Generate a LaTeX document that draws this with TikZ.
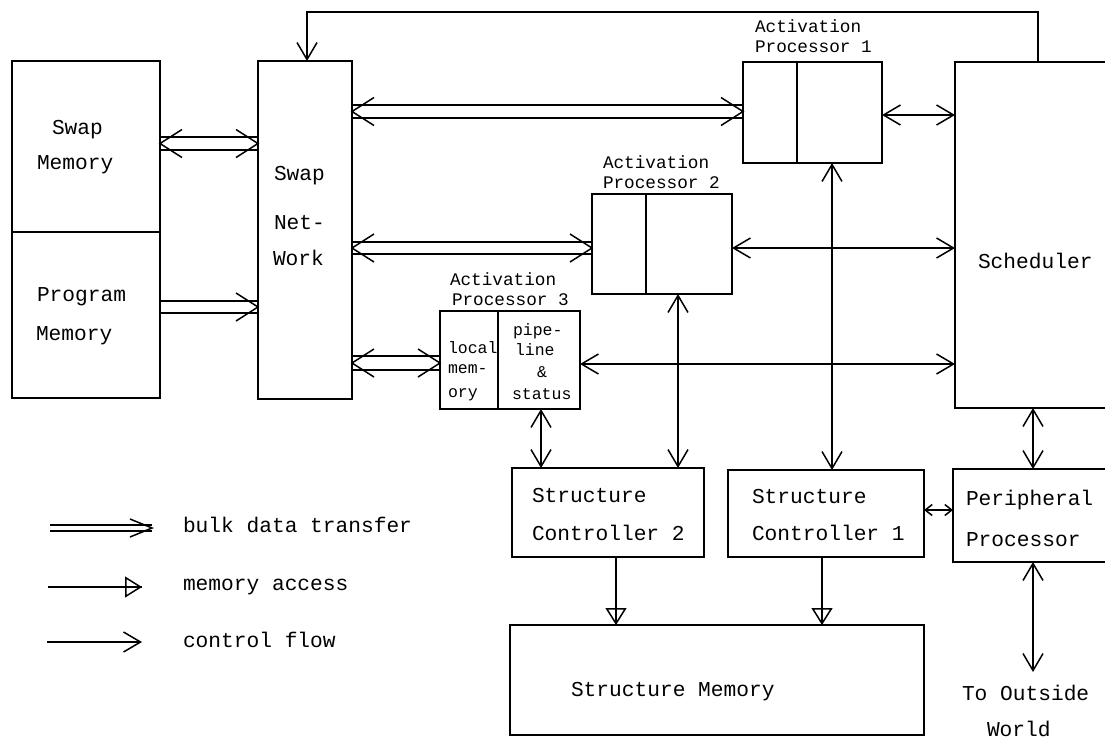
\documentclass[tikz,border=0pt]{standalone}
\usepackage{fontspec}
\newfontfamily\cour{Liberation Mono}
\usetikzlibrary{arrows.meta}
\newcommand\bulkshaft[4]{%
  \draw[bulk] (#1 |- 0,#3-#4) -- (#2 |- 0,#3-#4);
  \draw[bulk] (#1 |- 0,#3+#4) -- (#2 |- 0,#3+#4);}
\newcommand\chevR[3]{\draw[bulk] (#1 |- 0,#2) ++(-22,-#3) -- (#1 |- 0,#2) -- ++(-22,#3);}
\newcommand\chevL[3]{\draw[bulk] (#1 |- 0,#2) ++(22,-#3) -- (#1 |- 0,#2) -- ++(22,#3);}
\begin{document}
\begin{tikzpicture}[x=1pt,y=-1pt,
 box/.style={draw,line width=2pt,inner sep=0pt,outer sep=0pt,anchor=north west},
 divl/.style={line width=1.4pt},
 txt/.style={anchor=base west,inner sep=0pt,outer sep=0pt,font=\cour\fontsize{21.2}{25}\selectfont},
 txtm/.style={txt,font=\cour\fontsize{17.7}{21}\selectfont},
 txts/.style={txt,font=\cour\fontsize{16.5}{20}\selectfont},
 bulk/.style={line width=1.5pt},
 ctl/.style={line width=1.5pt,{Straight Barb[length=17pt,width=20pt]}-{Straight Barb[length=17pt,width=20pt]}},
 ctlone/.style={line width=1.5pt,-{Straight Barb[length=17pt,width=20pt]}},
 ctlsmall/.style={line width=1.5pt,{Straight Barb[length=7pt,width=11pt]}-{Straight Barb[length=7pt,width=11pt]}},
 mem/.style={line width=1.5pt,-{Triangle[open,length=17pt,width=21pt]},postaction={draw,-}},
]
\useasboundingbox (0,0) rectangle (1105,740);
\fill[white] (0,0) rectangle (1105,740);
% boxes
\node[box,minimum width=148pt,minimum height=171pt] (sm) at (12,61) {};
\node[box,minimum width=148pt,minimum height=166pt] (pm) at (12,232) {};
\node[box,minimum width=94pt,minimum height=338pt] (sn) at (258,61) {};
\node[box,minimum width=139pt,minimum height=101pt] (ap1) at (743,62) {};
\node[box,minimum width=140pt,minimum height=100pt] (ap2) at (592,194) {};
\node[box,minimum width=140pt,minimum height=98pt] (ap3) at (440,311) {};
\node[box,minimum width=180pt,minimum height=346pt] (sch) at (955,62) {};
\node[box,minimum width=180pt,minimum height=93pt] (pp) at (953,469) {};
\node[box,minimum width=192pt,minimum height=89pt] (sc2) at (512,468) {};
\node[box,minimum width=196pt,minimum height=87pt] (sc1) at (728,470) {};
\node[box,minimum width=414pt,minimum height=110pt] (smem) at (510,625) {};
% dividers
\draw[divl] (ap1.north west -| 797,0) -- (ap1.south west -| 797,0);
\draw[divl] (ap2.north west -| 646,0) -- (ap2.south west -| 646,0);
\draw[divl] (ap3.north west -| 498,0) -- (ap3.south west -| 498,0);
% texts
\node[txt] (tsm1) at (52,134) {Swap};
\node[txt] (tsm2) at (37,169) {Memory};
\node[txt] (tpm1) at (37,301) {Program};
\node[txt] (tpm2) at (36,340) {Memory};
\node[txt] (tsn1) at (274,180) {Swap};
\node[txt] (tsn2) at (274,229) {Net-};
\node[txt] (tsn3) at (273,265) {Work};
\node[txtm] (ta1a) at (755,32) {Activation};
\node[txtm] (ta1b) at (755,52) {Processor 1};
\node[txtm] (ta2a) at (603,168) {Activation};
\node[txtm] (ta2b) at (603,188) {Processor 2};
\node[txtm] (ta3a) at (450,285) {Activation};
\node[txtm] (ta3b) at (452,305) {Processor 3};
\node[txts] (tl1) at (448,353) {local};
\node[txts] (tl2) at (448,373) {mem-};
\node[txts] (tl3) at (448,397) {ory};
\node[txts] (tr1) at (513,335) {pipe-};
\node[txts] (tr2) at (515,355) {line};
\node[txts] (tr3) at (537,377) {\&};
\node[txts] (tr4) at (512,399) {status};
\node[txt] (tsch) at (978,268) {Scheduler};
\node[txt] (tpp1) at (966,505) {Peripheral};
\node[txt] (tpp2) at (966,546) {Processor};
\node[txt] (tsc2a) at (532,502) {Structure};
\node[txt] (tsc2b) at (532,540) {Controller 2};
\node[txt] (tsc1a) at (752,503) {Structure};
\node[txt] (tsc1b) at (752,540) {Controller 1};
\node[txt] (tsmem) at (571,696) {Structure Memory};
\node[txt] (tow1) at (962,700) {To Outside};
\node[txt] (tow2) at (987,736) {World};
\node[txt] (tlg1) at (183,532) {bulk data transfer};
\node[txt] (tlg2) at (183,590) {memory access};
\node[txt] (tlg3) at (183,647) {control flow};
% bulk data transfers
\bulkshaft{sm.east}{sn.west}{143.5}{6.5}
\chevL{sm.east}{143.5}{14}\chevR{sn.west}{143.5}{14}
\bulkshaft{pm.east}{sn.west}{307}{6}
\chevR{sn.west}{307}{14}
\bulkshaft{sn.east}{ap1.west}{111.5}{6.5}
\chevL{sn.east}{111.5}{14}\chevR{ap1.west}{111.5}{14}
\bulkshaft{sn.east}{ap2.west}{248}{6}
\chevL{sn.east}{248}{14}\chevR{ap2.west}{248}{14}
\bulkshaft{sn.east}{ap3.west}{363}{7}
\chevL{sn.east}{363}{14}\chevR{ap3.west}{363}{14}
% control flow
\draw[ctl] (ap1.east |- 0,115) -- (sch.west |- 0,115);
\draw[ctl] (ap2.east |- 0,248) -- (sch.west |- 0,248);
\draw[ctl] (ap3.east |- 0,364) -- (sch.west |- 0,364);
\draw[ctl] (ap1.south -| 832,0) -- (sc1.north -| 832,0);
\draw[ctl] (ap2.south -| 678,0) -- (sc2.north -| 678,0);
\draw[ctl] (ap3.south -| 541,0) -- (sc2.north -| 541,0);
\draw[ctl] (sch.south -| 1033,0) -- (pp.north -| 1033,0);
\coordinate (outw) at (1033,672);
\draw[ctl] (pp.south -| 1033,0) -- (outw);
\draw[ctlsmall] (sc1.east |- 0,510) -- (pp.west |- 0,510);
\draw[ctlone] (sch.north -| 1038,0) -- ++(0,-50) -| (sn.north -| 307,0);
% memory access
\draw[mem] (sc2.south -| 616,0) -- (smem.north -| 616,0);
\draw[mem] (sc1.south -| 822,0) -- (smem.north -| 822,0);
% legend
\coordinate (lgA1) at (50,528); \coordinate (lgA2) at (152,528);
\bulkshaft{lgA1}{lgA2}{528}{3}
\chevR{lgA2}{528}{9}
\coordinate (lgB1) at (48,587); \coordinate (lgB2) at (142,587);
\draw[mem] (lgB1) -- (lgB2);
\coordinate (lgC1) at (47,642); \coordinate (lgC2) at (142,642);
\draw[ctlone] (lgC1) -- (lgC2);
\end{tikzpicture}
\end{document}
